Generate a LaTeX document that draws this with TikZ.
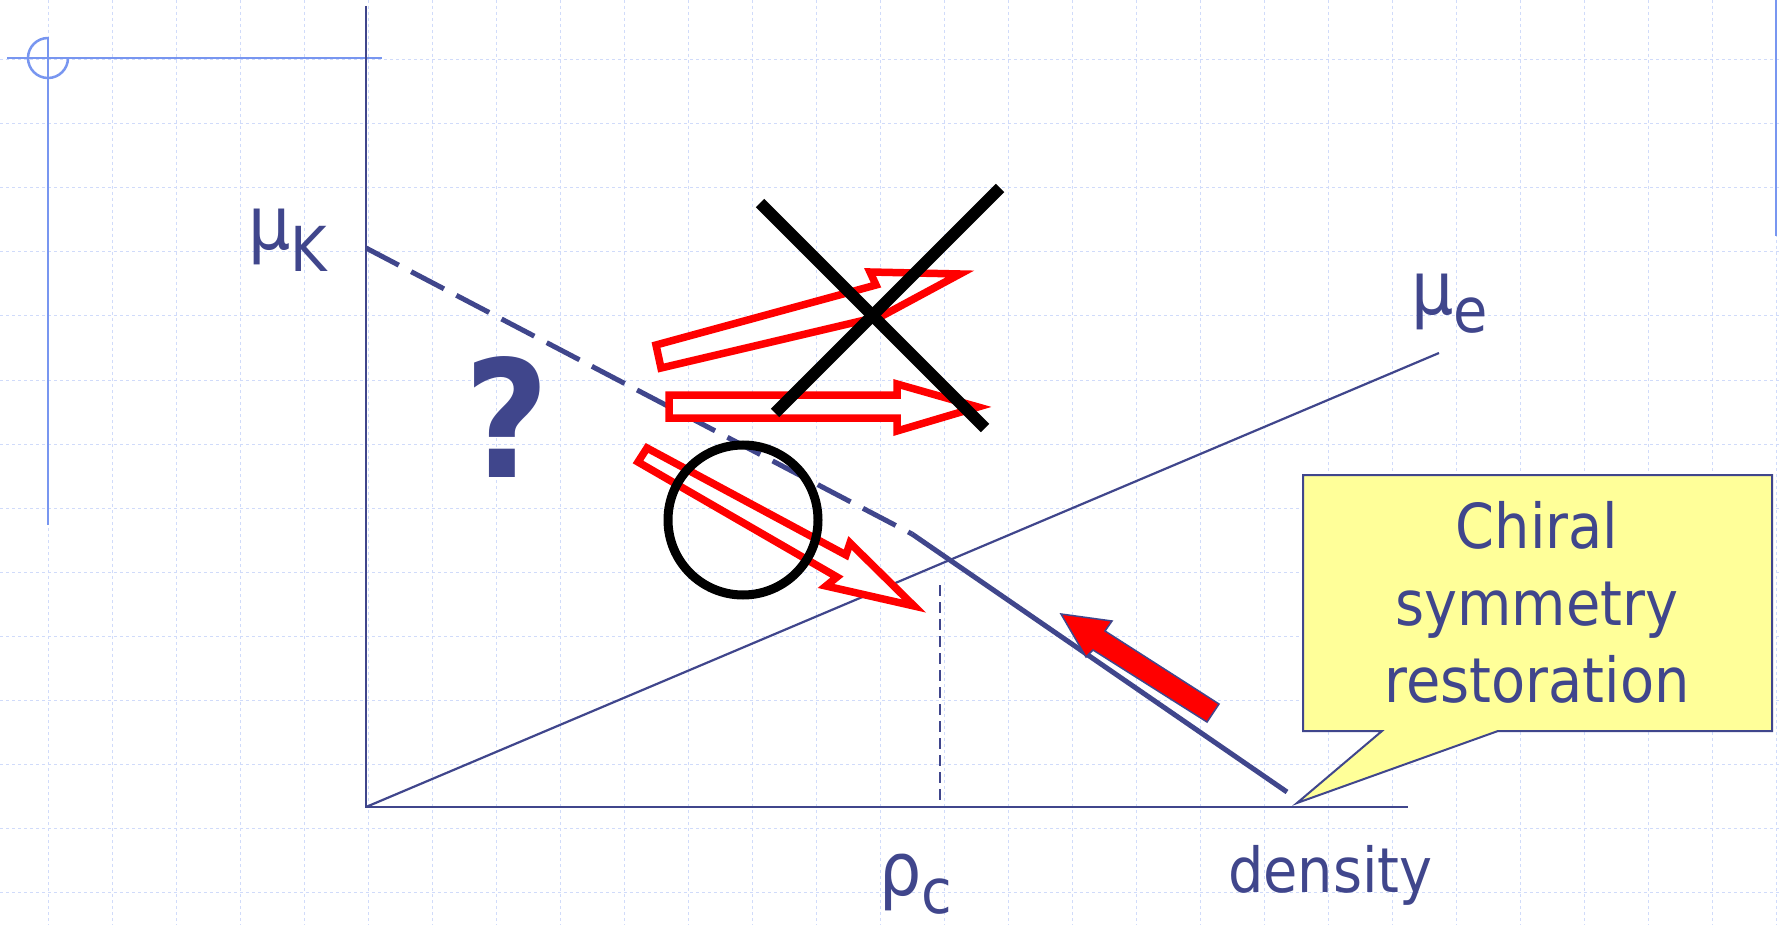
\documentclass[tikz,border=0pt]{standalone}
\usepackage{fontspec}
\setmainfont{DejaVu Sans}[FakeStretch=0.9]
\usetikzlibrary{positioning,calc}

\definecolor{axisblue}{RGB}{64,70,140}
\definecolor{guideblue}{RGB}{120,150,240}
\definecolor{gridblue}{RGB}{208,219,250}
\definecolor{noteyellow}{RGB}{255,255,153}

\begin{document}
\begin{tikzpicture}[x=1pt,y=-1pt]
    \tikzset{gridline/.style = {gridblue, line width=1pt, dash pattern=on 3pt off 3pt}}
    \tikzset{guide/.style = {guideblue, line width=2.5pt}}
    \tikzset{axis/.style = {axisblue, line width=2.2pt}}
    \tikzset{kaon/.style = {axisblue, line width=5pt}}
    \tikzset{hollow/.style = {draw=red, fill=white, line width=7.5pt, miter limit=20}}
    \tikzset{cross/.style = {black, line width=12pt}}
    \tikzset{label/.style = {axisblue, inner sep=0pt, font=\fontsize{62}{62}\selectfont}}

    \useasboundingbox (0,0) rectangle (1781,925);
    \fill[white] (0,0) rectangle (1781,925);

    % background grid
    \foreach \x in {48,112,...,1776} \draw[gridline] (\x,0) -- (\x,925);
    \foreach \y in {60,124,...,892} \draw[gridline] (0,\y) -- (1781,\y);

    % slide guides
    \draw[guide] (7,58) -- (382,58);
    \draw[guide] (48,37) -- (48,525);
    \draw[guide] (48,38) arc[start angle=-90, end angle=-360, radius=20];
    \draw[guide] (1776,0) -- (1776,236);

    % axes
    \coordinate (O) at (366,807);
    \coordinate (ytop) at (366,6);
    \coordinate (xend) at (1408,807);
    \coordinate (mue) at (1439,353);
    \coordinate (muk) at (366,248);
    \coordinate (kink) at (912,534);
    \coordinate (kend) at (1287,792);
    \coordinate (rhotop) at (940,585);

    \draw[axis] (ytop) -- (O) -- (xend);
    \draw[axis] (O) -- (mue);
    \draw[kaon, dash pattern=on 37pt off 14pt] (muk) -- (kink);
    \draw[kaon] (kink) -- (kend);
    \draw[axis, dash pattern=on 11pt off 6pt] (rhotop) -- (rhotop |- O);

    % labels
    \node[label, anchor=base west] (lmuk) at (248,250) {{\fontsize{74}{74}\selectfont μ}\raisebox{-22pt}{K}};
    \node[label, anchor=base west] (lmue) at (1411,315) {{\fontsize{74}{74}\selectfont μ}\raisebox{-18pt}{e}};
    \node[label, anchor=base west] (lrho) at (879,895) {{\fontsize{74}{74}\selectfont ρ}\raisebox{-18pt}{c}};
    \node[label, anchor=base west] (ldens) at (1228,892) {density};
    \node[label, anchor=base, font=\fontsize{163}{163}\selectfont\bfseries] (qmark) at (507,477) {?};

    % hollow arrows
    \draw[hollow] (656,345) -- (876,285) -- (870,272) -- (960,274) -- (882,316) -- (661,368) -- cycle;
    \draw[hollow] (669,395) -- (897,395) -- (897,384) -- (978,407) -- (897,431) -- (897,418) -- (669,418) -- cycle;
    \draw[hollow] (647,448) -- (846,555) -- (850,543) -- (914,606) -- (826,586) -- (837,577) -- (638,462) -- cycle;

    % cross and circle
    \draw[cross] (760,203) -- (985,428);
    \draw[cross] (1000,188) -- (775,413);
    \draw[black, line width=9pt] (743,520) circle[radius=75];

    % restoration arrow
    \draw[fill=red, draw=axisblue, line width=1.5pt] (1061,614) -- (1112,621) -- (1105,631) -- (1219,704) -- (1207,722) -- (1093,650) -- (1086,657) -- cycle;

    % callout
    \draw[axisblue, fill=noteyellow, line width=2pt] (1303,475) -- (1772,475) -- (1772,731) -- (1498,731) -- (1297,803) -- (1382,731) -- (1303,731) -- cycle;
    \node[label, anchor=base, align=center, font=\fontsize{62}{77}\selectfont] (note) at (1537,702) {Chiral\\symmetry\\restoration};
\end{tikzpicture}
\end{document}
